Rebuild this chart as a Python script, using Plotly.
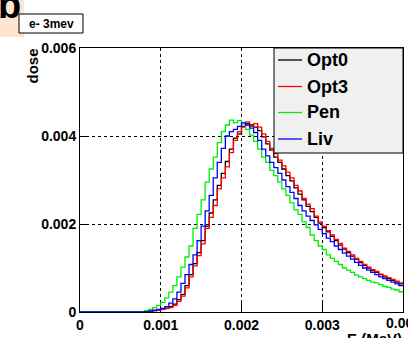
import plotly.graph_objects as go

# ---------------- data (dose in units of 1e-3) ----------------
BIN_START = 0.0007      # MeV, lower edge of first listed bin
BIN_WIDTH = 0.00005     # MeV
X_MAX = 0.004

series_names = ["Opt0", "Opt3", "Pen", "Liv"]
series_colors = ["#000000", "#ff0000", "#00ee00", "#0000ff"]

opt0 = [0, 0, 0.01, 0.02, 0.03, 0.05, 0.07, 0.09, 0.12, 0.18,
        0.28, 0.40, 0.60, 0.85, 1.10, 1.35, 1.62, 1.95, 2.25, 2.55,
        2.88, 3.15, 3.42, 3.70, 3.95, 4.05, 4.22, 4.28, 4.25, 4.20,
        4.12, 3.98, 3.82, 3.68, 3.52, 3.40, 3.25, 3.10, 2.98, 2.82,
        2.68, 2.55, 2.40, 2.28, 2.15, 2.02, 1.92, 1.82, 1.72, 1.62,
        1.52, 1.43, 1.35, 1.27, 1.20, 1.12, 1.06, 1.00, 0.94, 0.90,
        0.85, 0.80, 0.76, 0.72, 0.68, 0.64]

opt3 = [0, 0, 0.01, 0.02, 0.03, 0.04, 0.06, 0.08, 0.10, 0.15,
        0.24, 0.36, 0.55, 0.80, 1.05, 1.28, 1.55, 1.90, 2.15, 2.42,
        2.80, 3.05, 3.30, 3.62, 3.90, 4.10, 4.20, 4.32, 4.22, 4.28,
        4.20, 4.05, 3.88, 3.72, 3.60, 3.45, 3.32, 3.18, 3.05, 2.88,
        2.75, 2.58, 2.45, 2.35, 2.18, 2.05, 1.95, 1.85, 1.75, 1.65,
        1.56, 1.45, 1.38, 1.30, 1.22, 1.15, 1.08, 1.02, 0.96, 0.92,
        0.86, 0.82, 0.78, 0.74, 0.70, 0.66]

pen = [0, 0.01, 0.03, 0.06, 0.10, 0.15, 0.22, 0.32, 0.45, 0.60,
       0.80, 1.02, 1.25, 1.50, 1.90, 2.22, 2.55, 2.95, 3.25, 3.52,
       3.85, 4.10, 4.25, 4.36, 4.30, 4.35, 4.28, 4.15, 4.02, 3.88,
       3.70, 3.52, 3.40, 3.22, 3.10, 2.95, 2.80, 2.65, 2.48, 2.32,
       2.22, 2.05, 1.92, 1.75, 1.62, 1.50, 1.42, 1.30, 1.22, 1.15,
       1.08, 1.00, 0.95, 0.90, 0.84, 0.80, 0.76, 0.72, 0.68, 0.66,
       0.62, 0.58, 0.56, 0.52, 0.50, 0.46]

liv = [0, 0, 0.01, 0.02, 0.04, 0.06, 0.08, 0.12, 0.20, 0.30,
       0.45, 0.65, 0.85, 1.08, 1.30, 1.62, 1.95, 2.30, 2.65, 3.05,
       3.40, 3.72, 4.00, 4.10, 4.15, 4.22, 4.30, 4.25, 4.18, 4.08,
       3.90, 3.70, 3.55, 3.40, 3.28, 3.15, 3.00, 2.85, 2.72, 2.58,
       2.42, 2.30, 2.18, 2.08, 1.98, 1.88, 1.78, 1.68, 1.60, 1.50,
       1.42, 1.34, 1.27, 1.20, 1.13, 1.06, 1.00, 0.95, 0.90, 0.85,
       0.80, 0.76, 0.72, 0.68, 0.64, 0.60]

series_values = [opt0, opt3, pen, liv]

x_tickvals = [0, 0.001, 0.002, 0.003, 0.004]
x_ticktext = ["0", "0.001", "0.002", "0.003", "0.004"]
y_tickvals = [0, 0.002, 0.004, 0.006]
y_ticktext = ["0", "0.002", "0.004", "0.006"]

title_text = "e- 3mev"
x_title = "E (MeV)"
y_title = "dose"
panel_label = "b"

# ---------------- layout geometry (pixels) ----------------
W, H = 408, 338
L, T, R, B = 80, 48, 403, 312
PW, PH = R - L, B - T


def px(x):
    return (x - L) / PW


def py(y):
    return (B - y) / PH


FONT = "Liberation Sans, Arial, Helvetica, sans-serif"
TICKFONT = dict(family=FONT, size=14, color="black", weight="bold")

fig = go.Figure()

for name, color, vals in zip(series_names, series_colors, series_values):
    xs = [0.0] + [BIN_START + BIN_WIDTH * i for i in range(len(vals))] + [X_MAX]
    ys = [0.0] + [v * 1e-3 for v in vals] + [vals[-1] * 1e-3]
    fig.add_trace(go.Scatter(
        x=xs, y=ys, mode="lines", name=name,
        line=dict(color=color, width=1.3, shape="hv"),
        cliponaxis=False, showlegend=False, hoverinfo="skip"))

axis_common = dict(
    showline=True, linecolor="black", linewidth=1, mirror=True,
    ticks="inside", tickcolor="black", tickwidth=1,
    showgrid=True, gridcolor="black", gridwidth=1, griddash="dot",
    zeroline=False, layer="below traces", automargin=False,
    tickfont=TICKFONT,
)

fig.update_xaxes(range=[0, X_MAX], tickmode="array", tickvals=x_tickvals,
                 ticktext=x_ticktext, ticklen=12, **axis_common)
fig.update_yaxes(range=[0, 0.006], tickmode="array", tickvals=y_tickvals,
                 ticktext=y_ticktext, ticklen=9, **axis_common)

shapes = []
annotations = []

# last x tick label sits on the page edge (plotly hides it): draw it as text
annotations.append(dict(text=x_ticktext[-1], xref="x", yref="paper",
                        x=x_tickvals[-1], y=py(323), xanchor="center",
                        yanchor="middle", showarrow=False, font=TICKFONT))

# panel label background (peach) and letter
shapes.append(dict(type="rect", xref="paper", yref="paper",
                   x0=px(0), x1=px(24), y0=py(37), y1=py(0),
                   fillcolor="#fde6cf", line=dict(width=0), layer="below"))
annotations.append(dict(text=panel_label, xref="paper", yref="paper",
                        x=px(-4), y=py(28), xanchor="left", yanchor="bottom",
                        showarrow=False,
                        font=dict(family=FONT, size=38, color="black", weight="bold")))

# title box
shapes.append(dict(type="rect", xref="paper", yref="paper",
                   x0=px(19), x1=px(83), y0=py(33), y1=py(14),
                   fillcolor="white", line=dict(color="black", width=1)))
annotations.append(dict(text=title_text, xref="paper", yref="paper",
                        x=px(51), y=py(23.5), xanchor="center", yanchor="middle",
                        showarrow=False,
                        font=dict(family=FONT, size=12, color="black", weight="bold")))

# axis titles
annotations.append(dict(text=y_title, xref="paper", yref="paper",
                        x=px(32), y=py(47), xanchor="center", yanchor="top",
                        textangle=-90, showarrow=False,
                        font=dict(family=FONT, size=15, color="black", weight="bold")))
annotations.append(dict(text=x_title, xref="paper", yref="paper",
                        x=px(404), y=py(328), xanchor="right", yanchor="top",
                        showarrow=False,
                        font=dict(family=FONT, size=15, color="black", weight="bold")))

# legend box
shapes.append(dict(type="rect", xref="paper", yref="paper",
                   x0=px(274), x1=px(403), y0=py(153), y1=py(48),
                   fillcolor="#f0f0f0", line=dict(color="black", width=1),
                   layer="above"))
legend_rows = [60, 86.5, 112.5, 139]
for name, color, yrow in zip(series_names, series_colors, legend_rows):
    shapes.append(dict(type="line", xref="paper", yref="paper",
                       x0=px(278), x1=px(302), y0=py(yrow), y1=py(yrow),
                       line=dict(color=color, width=1.3), layer="above"))
    annotations.append(dict(text=name, xref="paper", yref="paper",
                            x=px(305), y=py(yrow), xanchor="left", yanchor="middle",
                            showarrow=False,
                            font=dict(family=FONT, size=18, color="black", weight="bold")))

fig.update_layout(
    width=W, height=H,
    margin=dict(l=L, r=W - R, t=T, b=H - B, pad=0, autoexpand=False),
    paper_bgcolor="white", plot_bgcolor="white",
    showlegend=False,
    shapes=shapes, annotations=annotations,
)

fig.write_html("out.html")
